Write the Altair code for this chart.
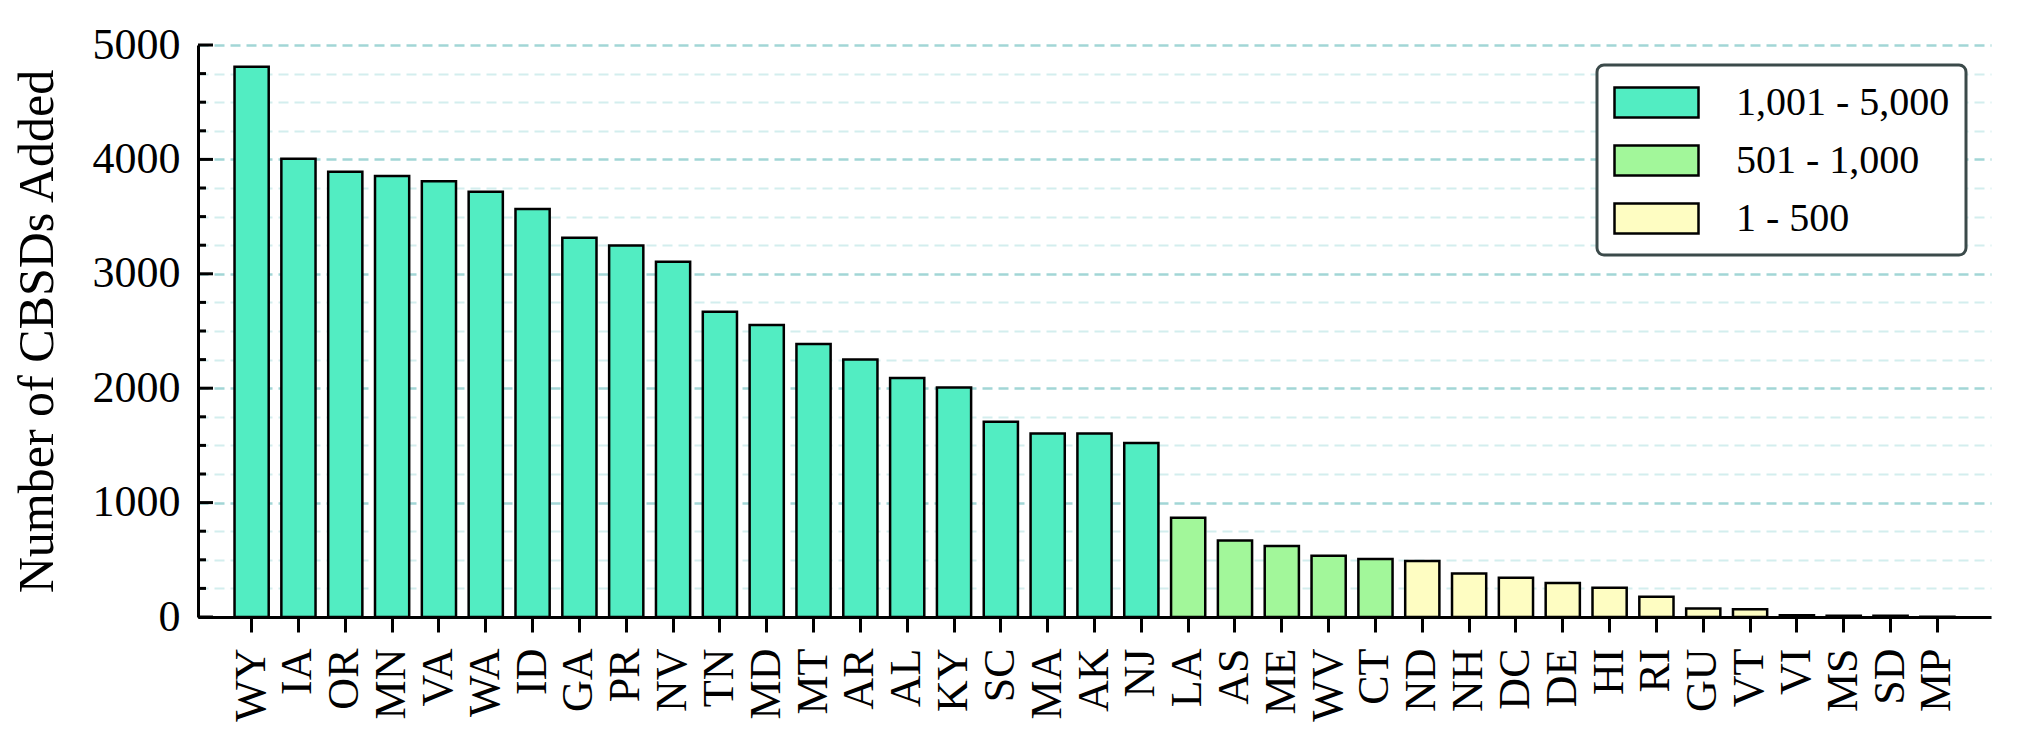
import altair as alt
import pandas as pd

states = ["WY", "IA", "OR", "MN", "VA", "WA", "ID", "GA", "PR", "NV",
          "TN", "MD", "MT", "AR", "AL", "KY", "SC", "MA", "AK", "NJ",
          "LA", "AS", "ME", "WV", "CT", "ND", "NH", "DC", "DE", "HI",
          "RI", "GU", "VT", "VI", "MS", "SD", "MP"]
counts = [4810, 4006, 3893, 3855, 3809, 3717, 3566, 3315, 3248, 3105,
          2668, 2553, 2386, 2251, 2090, 2006, 1706, 1604, 1604, 1522,
          868, 668, 620, 535, 508, 490, 380, 343, 298, 256,
          177, 75, 68, 15, 12, 12, 3]
ranges = ["1,001 - 5,000", "501 - 1,000", "1 - 500"]
colors = ["#52EDC2", "#A2F79A", "#FEFDC2"]
major_ticks = [0, 1000, 2000, 3000, 4000, 5000]
minor_ticks = [250, 500, 750, 1250, 1500, 1750, 2250, 2500, 2750,
               3250, 3500, 3750, 4250, 4500, 4750]


def bucket(v):
    if v > 1000:
        return ranges[0]
    if v > 500:
        return ranges[1]
    return ranges[2]


df = pd.DataFrame({"state": states, "count": counts,
                   "range": [bucket(v) for v in counts]})

FONT = "Liberation Serif"
yscale = alt.Scale(domain=[0, 5000], nice=False, zero=True)
grid_vals = sorted(major_ticks + minor_ticks)

yaxis = alt.Axis(values=grid_vals,
                 labelExpr="datum.value % 1000 == 0 ? datum.label : ''",
                 format="d",
                 labelFont=FONT, labelFontSize=44, labelColor="black",
                 labelPadding=18, ticks=False,
                 domainColor="black", domainWidth=3,
                 grid=True,
                 gridColor=alt.condition("datum.value % 1000 == 0",
                                         alt.value("#a2d6d6"),
                                         alt.value("#d3eeee")),
                 gridWidth=alt.condition("datum.value % 1000 == 0",
                                         alt.value(2.5),
                                         alt.value(2)),
                 gridDash=[10, 6],
                 title="Number of CBSDs Added",
                 titleFont=FONT, titleFontSize=50,
                 titleFontWeight="normal", titleColor="black",
                 titleAngle=270, titleAlign="center",
                 titleBaseline="alphabetic",
                 titleX=-146, titleY=286)

bars = alt.Chart(df).mark_bar(stroke="black", strokeWidth=2.5).encode(
    x=alt.X("state:N", sort=states,
            scale=alt.Scale(paddingInner=0.27, paddingOuter=0.78),
            axis=alt.Axis(title=None, labelAngle=-90, labelFont=FONT,
                          labelFontSize=44, labelColor="black",
                          labelPadding=16, labelAlign="right",
                          labelBaseline="middle",
                          tickSize=15, tickWidth=3, tickColor="black",
                          domainColor="black", domainWidth=3, grid=False)),
    y=alt.Y("count:Q", scale=yscale, axis=yaxis),
    fill=alt.Fill("range:N", scale=alt.Scale(domain=ranges, range=colors),
                  legend=alt.Legend(title=None, orient="none",
                                    legendX=1399, legendY=20,
                                    labelFont=FONT, labelFontSize=40,
                                    labelColor="black",
                                    labelOffset=58, symbolOffset=22,
                                    labelLimit=500,
                                    symbolType="M-2.1,-0.75H2.1V0.75H-2.1Z",
                                    symbolSize=1600,
                                    symbolStrokeColor="black",
                                    symbolStrokeWidth=2.5,
                                    symbolOpacity=1,
                                    rowPadding=16, padding=16,
                                    fillColor="white",
                                    strokeColor="#3b4a4a",
                                    cornerRadius=7)),
)

major = alt.Chart(pd.DataFrame({"count": major_ticks})).mark_rule(
    color="black", strokeWidth=3).encode(
    y=alt.Y("count:Q", scale=yscale, axis=yaxis),
    x=alt.value(0), x2=alt.value(15))

minor = alt.Chart(pd.DataFrame({"count": minor_ticks})).mark_rule(
    color="black", strokeWidth=3).encode(
    y=alt.Y("count:Q", scale=yscale, axis=yaxis),
    x=alt.value(0), x2=alt.value(8))

chart = alt.layer(bars, major, minor).properties(
    width=1793, height=572,
    autosize=alt.AutoSizeParams(type="none"),
    padding={"left": 190, "top": 37, "right": 20, "bottom": 130},
    background="white",
).configure_view(stroke=None).configure_legend(strokeWidth=3)

chart.save("out.html", embed_options={"renderer": "svg", "actions": False})
